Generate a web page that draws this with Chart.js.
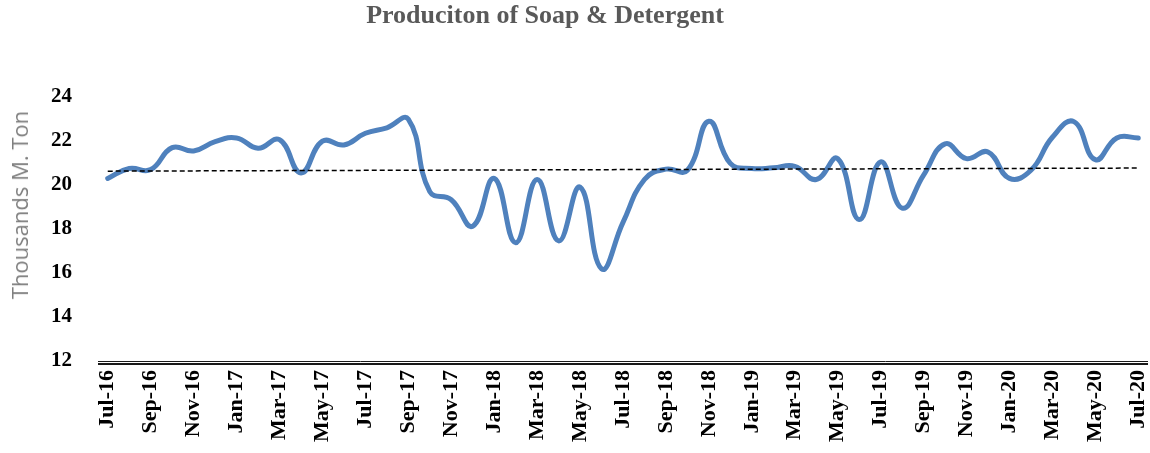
<!DOCTYPE html>
<html>
<head>
<meta charset="utf-8">
<script src="https://cdn.jsdelivr.net/npm/chart.js@4"></script>
<style>
  html, body { margin: 0; padding: 0; background: #fff; }
  #wrap { position: relative; width: 1150px; height: 453px; }
  #title { position: absolute; top: 0px; left: 545px; transform: translateX(-50%);
    font: bold 26px "Liberation Serif", "DejaVu Serif", serif; color: #595959; white-space: nowrap; }
  #ytitle { position: absolute; left: 19px; top: 205px; transform: translate(-50%, -50%) rotate(-90deg);
    font: 22px "Open Sans", sans-serif; color: #7f7f7f; white-space: nowrap; line-height: 1; }
</style>
</head>
<body>
<div id="wrap">
  <canvas id="c" width="1150" height="453"></canvas>
  <div id="title">Produciton of Soap &amp; Detergent</div>
  <div id="ytitle">Thousands M. Ton</div>
</div>
<script>
const months = [
  'Jul-16','Aug-16','Sep-16','Oct-16','Nov-16','Dec-16',
  'Jan-17','Feb-17','Mar-17','Apr-17','May-17','Jun-17',
  'Jul-17','Aug-17','Sep-17','Oct-17','Nov-17','Dec-17',
  'Jan-18','Feb-18','Mar-18','Apr-18','May-18','Jun-18',
  'Jul-18','Aug-18','Sep-18','Oct-18','Nov-18','Dec-18',
  'Jan-19','Feb-19','Mar-19','Apr-19','May-19','Jun-19',
  'Jul-19','Aug-19','Sep-19','Oct-19','Nov-19','Dec-19',
  'Jan-20','Feb-20','Mar-20','Apr-20','May-20','Jun-20',
  'Jul-20'
];
const production = [
  20.30, 20.75, 20.70, 21.70, 21.55, 21.97,
  22.14, 21.67, 22.06, 20.55, 21.99, 21.82,
  22.35, 22.60, 22.99, 19.70, 19.33, 18.13,
  20.30, 17.38, 20.25, 17.46, 19.90, 16.19,
  18.30, 20.25, 20.72, 20.67, 22.90, 20.98,
  20.75, 20.78, 20.85, 20.25, 21.20, 18.43,
  21.05, 18.95, 20.45, 21.87, 21.20, 21.50,
  20.30, 20.67, 22.17, 22.88, 21.15, 22.14,
  22.14
];
const trendStart = 20.63;
const trendEnd = 20.77;
const yTicks = [12, 14, 16, 18, 20, 22, 24];

const doubleLine = {
  id: 'doubleLine',
  afterDraw(chart) {
    const { ctx, chartArea } = chart;
    ctx.save();
    ctx.strokeStyle = '#1a1a1a';
    ctx.lineWidth = 1;
    ctx.beginPath();
    ctx.moveTo(chartArea.left + 1, chartArea.bottom + 0.5);
    ctx.lineTo(chartArea.right - 1, chartArea.bottom + 0.5);
    ctx.stroke();
    ctx.lineWidth = 2;
    ctx.beginPath();
    ctx.moveTo(chartArea.left + 1, chartArea.bottom + 3);
    ctx.lineTo(chartArea.right - 1, chartArea.bottom + 3);
    ctx.stroke();
    ctx.restore();
  }
};

new Chart(document.getElementById('c'), {
  type: 'line',
  data: {
    labels: months,
    datasets: [
      {
        label: 'Production',
        data: production,
        borderColor: '#4F81BD',
        borderWidth: 5,
        pointRadius: 0,
        tension: 0.45,
        borderCapStyle: 'round',
        borderJoinStyle: 'round',
        fill: false,
        order: 1
      },
      {
        label: 'Trend',
        data: [{ x: months[0], y: trendStart }, { x: months[months.length - 1], y: trendEnd }],
        borderColor: '#000000',
        borderWidth: 1.5,
        borderDash: [5, 3],
        pointRadius: 0,
        tension: 0,
        fill: false,
        order: 0
      }
    ]
  },
  options: {
    responsive: false,
    animation: false,
    layout: { padding: { top: 97, right: 1, left: 0, bottom: 0 } },
    plugins: {
      legend: { display: false },
      tooltip: { enabled: false },
      title: { display: false }
    },
    scales: {
      x: {
        offset: true,
        grid: { display: false, drawTicks: false },
        border: { display: false },
        ticks: {
          autoSkip: false,
          minRotation: 90,
          maxRotation: 90,
          padding: 9,
          color: '#000',
          font: { family: '"Liberation Serif", serif', size: 22, weight: 'bold' },
          callback: function (v, i) { return i % 2 === 0 ? this.getLabelForValue(v) : ''; }
        },
        afterFit(s) { s.height = 92; s.paddingLeft = 0; s.paddingRight = 0; }
      },
      y: {
        min: 12,
        max: 24,
        afterBuildTicks(s) { s.ticks = yTicks.map(v => ({ value: v })); },
        grid: { display: false, drawTicks: false },
        border: { display: false },
        ticks: {
          padding: 25,
          color: '#000',
          font: { family: '"Liberation Serif", serif', size: 21, weight: 'bold' }
        },
        afterFit(s) { s.width = 97; s.paddingTop = 0; s.paddingBottom = 0; }
      }
    }
  },
  plugins: [doubleLine]
});
</script>
</body>
</html>
